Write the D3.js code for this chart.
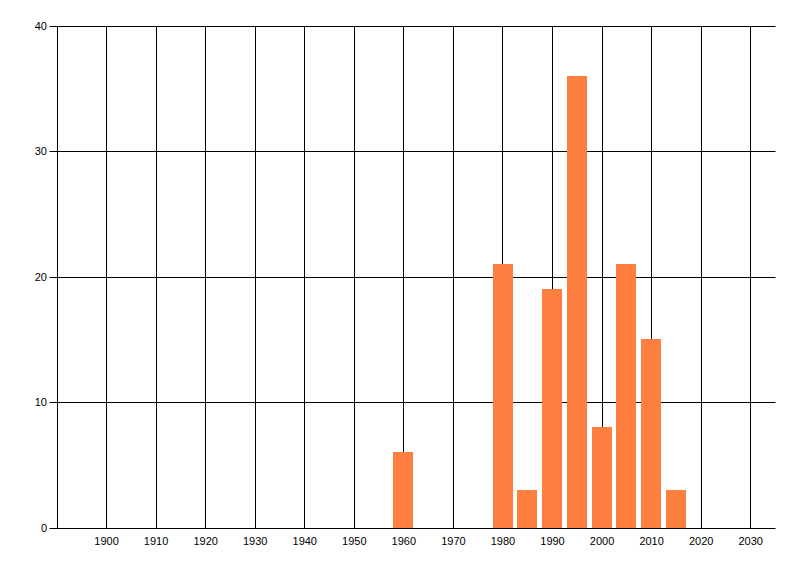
<!DOCTYPE html>
<html>
<head>
<meta charset="utf-8">
<script src="https://cdn.jsdelivr.net/npm/d3@7"></script>
<style>
html,body{margin:0;padding:0;background:#fff;}
svg{display:block;}
text{font-family:"Liberation Sans",Arial,sans-serif;font-size:11px;fill:#000;}
</style>
</head>
<body>
<svg id="chart" width="800" height="576"></svg>
<script>
const years = [1960, 1980, 1985, 1990, 1995, 2000, 2005, 2010, 2015];
const counts = [6, 21, 3, 19, 36, 8, 21, 15, 3];
const xTicks = [1900, 1910, 1920, 1930, 1940, 1950, 1960, 1970, 1980, 1990, 2000, 2010, 2020, 2030];
const yTicks = [0, 10, 20, 30, 40];

(function () {
const svg = d3.select("#chart");
const pLeft = 57, pRight = 775.5, pTop = 26, pBottom = 528;
const x = d3.scaleLinear().domain([1890, 2035]).range([pLeft, pRight]);
const y = d3.scaleLinear().domain([0, 40]).range([pBottom, pTop]);
const barYears = 4;
const snap = v => Math.floor(v) + 0.5;

// vertical gridlines
svg.append("g").selectAll("line").data(xTicks).join("line")
  .attr("x1", d => snap(x(d))).attr("x2", d => snap(x(d)))
  .attr("y1", snap(pTop)).attr("y2", snap(pBottom))
  .attr("stroke", "#000").attr("stroke-width", 1);

// horizontal gridlines with outward ticks
svg.append("g").selectAll("line").data(yTicks).join("line")
  .attr("x1", snap(pLeft) - 8).attr("x2", pRight)
  .attr("y1", d => snap(y(d))).attr("y2", d => snap(y(d)))
  .attr("stroke", "#000").attr("stroke-width", 1);

// left axis line
svg.append("line").attr("x1", snap(pLeft)).attr("x2", snap(pLeft))
  .attr("y1", snap(pTop)).attr("y2", snap(pBottom))
  .attr("stroke", "#000");

// bars
svg.append("g").selectAll("rect").data(years).join("rect")
  .attr("x", d => Math.floor(x(d - barYears / 2)))
  .attr("width", d => Math.round(x(d + barYears / 2) - x(d - barYears / 2)))
  .attr("y", (d, i) => Math.floor(y(counts[i])))
  .attr("height", (d, i) => Math.floor(y(0)) - Math.floor(y(counts[i])))
  .attr("fill", "#ff7f40");

// y labels
svg.append("g").selectAll("text").data(yTicks).join("text")
  .attr("x", 47).attr("y", d => y(d)).attr("dy", "0.35em")
  .attr("text-anchor", "end").text(d => d);

// x labels
svg.append("g").selectAll("text").data(xTicks).join("text")
  .attr("x", d => x(d)).attr("y", 545)
  .attr("text-anchor", "middle").text(d => d);
})();
</script>
</body>
</html>
